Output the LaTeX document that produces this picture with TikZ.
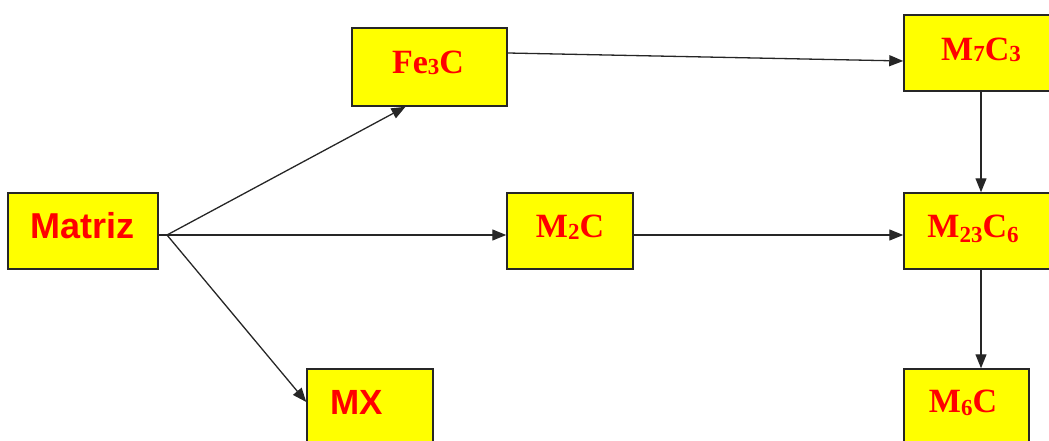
\documentclass[tikz,border=0pt]{standalone}
\usepackage{fontspec}
\setmainfont{Liberation Serif}
\setsansfont{Liberation Sans}
\usetikzlibrary{arrows.meta,calc}
\definecolor{boxfill}{RGB}{255,255,0}
\definecolor{boxtext}{RGB}{255,0,0}
\newcommand{\sub}[2][2.5pt]{\raisebox{-#1}{\fontsize{23}{23}\selectfont #2}}
\tikzset{
  phase/.style={draw=black!85, line width=1.5pt, fill=boxfill, inner sep=0pt,
    minimum width=#1, minimum height=76pt},
  ptext/.style={text=boxtext, font=\fontsize{34}{34}\selectfont\bfseries},
  stext/.style={text=boxtext, font=\fontsize{36}{36}\sffamily\selectfont\bfseries},
  arr/.style={draw=black!85, line width=1.3pt, -{Triangle[length=14pt,width=11pt]}}
}
\begin{document}
\begin{tikzpicture}[x=1pt,y=-1pt]
\useasboundingbox (0,0) rectangle (1049,441);
\clip (0,0) rectangle (1049,441);

% phase boxes and their labels
\node[phase=150pt] (matriz) at (83,231) {};
\node[stext] (matrizT) at (83,226) {Matriz};
\node[phase=155pt, minimum height=78pt] (fe3c) at (429.5,67) {};
\node[ptext] (fe3cT) at (428,63) {Fe\sub[1.5pt]{3}C};
\node[phase=154pt] (m7c3) at (981,53) {};
\node[ptext] (m7c3T) at (981,50) {M\sub[1.5pt]{7}C\sub[1.5pt]{3}};
\node[phase=126pt] (m2c) at (570,231) {};
\node[ptext] (m2cT) at (570,227) {M\sub[2.5pt]{2}C};
\node[phase=154pt] (m23c6) at (981,231) {};
\node[ptext] (m23c6T) at (973,229) {M\sub[5pt]{23}C\sub[5pt]{6}};
\node[phase=126pt] (mx) at (370,407) {};
\node[stext, font=\fontsize{35}{35}\sffamily\selectfont\bfseries] (mxT) at (357,402) {MX};
\node[phase=125pt] (m6c) at (966.5,407) {};
\node[ptext] (m6cT) at (963,403) {M\sub[3pt]{6}C};

% connectors
\coordinate (hub) at (167,235);
\draw[draw=black!85, line width=1.3pt] (matriz.east |- hub) -- (hub);
\draw[arr] (hub) -- ($(fe3c.south)+(-24,0)$);
\draw[arr] (hub) -- (m2c.west |- hub);
\draw[arr] (hub) -- ($(mx.west)+(0,-5)$);
\draw[arr] ($(fe3c.east)+(0,-14)$) -- ($(m7c3.west)+(0,8)$);
\draw[arr] (m2c.east |- hub) -- (m23c6.west |- hub);
\draw[arr] (m7c3.south) -- (m23c6.north);
\draw[arr] (m23c6.south) -- (m23c6.south |- m6c.north);
\end{tikzpicture}
\end{document}
